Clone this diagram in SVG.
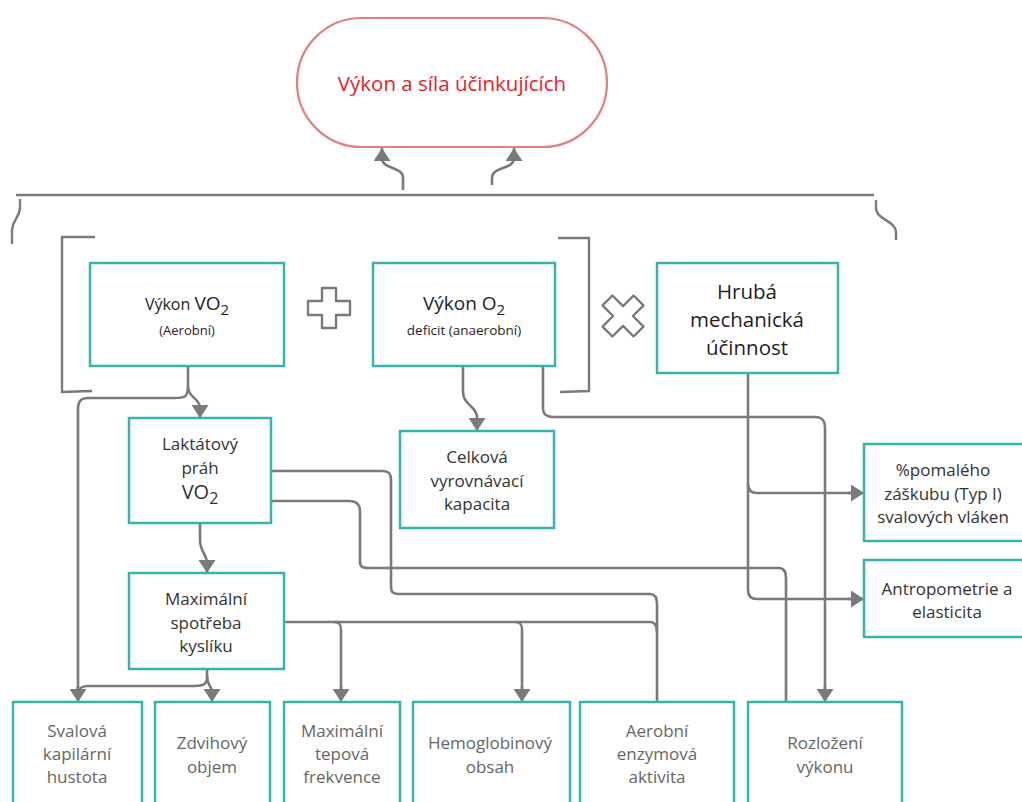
<svg xmlns="http://www.w3.org/2000/svg" width="1022" height="802" viewBox="0 0 1022 802">
<defs>
<marker id="ah" markerWidth="14" markerHeight="17" viewBox="0 0 14 17" refX="13" refY="8.5" orient="auto" markerUnits="userSpaceOnUse">
<path d="M0,0 L13,8.5 L0,17 Z" fill="#7a7a7a"/>
</marker>
<style>
.box{fill:#fff;stroke:#38b2ad;stroke-width:2.5}
.ln{fill:none;stroke:#7a7a7a;stroke-width:2.6}
.arr{fill:none;stroke:#7a7a7a;stroke-width:2.6;marker-end:url(#ah)}
.br{fill:none;stroke:#7a7a7a;stroke-width:2.4}
.t{font-family:"Open Sans","Liberation Sans",sans-serif;text-anchor:middle}
.dk{fill:#1e1e1e}
.md{fill:#333}
.gr{fill:#666}
</style>
</defs>
<rect width="1022" height="802" fill="#fff"/>

<g id="title">
<rect x="297" y="18" width="310" height="129" rx="64.5" fill="#fff" stroke="#e57e7e" stroke-width="2.2"/>
<text class="t" x="452" y="91" font-size="20.5" fill="#e8202a">Výkon a síla účinkujících</text>
</g>

<g id="brackets">
<path class="br" d="M16,195 H874"/>
<path class="br" d="M20,199 V207 C20,218 13,218 12,230 V244"/>
<path class="br" d="M876,200 V208 C876,220 895,220 896,232 V240"/>
<path class="br" d="M95,237 H62 V392 L92,391"/>
<path class="br" d="M558,238 L589,238 V391 L560,392"/>
</g>

<g id="ops">
<path d="M322,288 H336 V301 H350 V315 H336 V328 H322 V315 H308 V301 H322 Z" fill="#fff" stroke="#7a7a7a" stroke-width="2.4" stroke-linejoin="round"/>
<path transform="translate(623,316) rotate(45)" d="M-7,-22 H7 V-7 H22 V7 H7 V22 H-7 V7 H-22 V-7 H-7 Z" fill="#fff" stroke="#7a7a7a" stroke-width="2.4" stroke-linejoin="round"/>
</g>

<g id="connectors">
<path class="arr" d="M403,190 V178 C403,166 382,170 382,158 V148"/>
<path class="arr" d="M492,185 V178 C492,166 514,170 514,158 V148"/>
<path class="arr" d="M188,366 V386 C188,398 200,398 200,408 V418"/>
<path class="ln" d="M188,386 C188,398 184,398 174,398 H88 C80,398 78,402 78,410 V690"/>
<path class="arr" d="M78,686 V702"/>
<path class="arr" d="M200,523 V540 C200,552 207,554 207,563 V573"/>
<path class="ln" d="M207,669 V678 C207,686 200,686 190,686 H88 C80,686 78,690 78,696"/>
<path class="arr" d="M207,676 C207,686 212,686 212,692 V702"/>
<path class="ln" d="M271,471 H383 C389,471 391,474 391,480 V587 C391,593 394,594 400,594 H650 C655,594 657,598 657,604 V702"/>
<path class="ln" d="M271,501 H350 C357,501 360,505 360,512 V562 C360,568 364,568 370,568 H779 C784,568 786,571 786,578 V702"/>
<path class="ln" d="M284,622 H650 C655,622 657,625 657,632"/>
<path class="ln" d="M334,622 C339,622 341,624 341,630 V690"/>
<path class="arr" d="M341,686 V702"/>
<path class="ln" d="M515,622 C520,622 522,624 522,630 V690"/>
<path class="arr" d="M522,686 V702"/>
<path class="arr" d="M463,366 V392 C463,405 477,406 477,418 V431"/>
<path class="ln" d="M543,366 V408 C543,415 547,417 554,417 H815 C822,417 825,420 825,428 V690"/>
<path class="arr" d="M825,686 V702"/>
<path class="ln" d="M748,373 V484 C748,490 751,493 757,493 H852"/>
<path class="arr" d="M848,493 H864"/>
<path class="ln" d="M748,484 V590 C748,596 751,599 757,599 H852"/>
<path class="arr" d="M848,599 H864"/>
</g>

<g id="vyvo2">
<rect class="box" x="90" y="263" width="194" height="103"/>
<text class="t dk" x="187" y="310" font-size="16">Výkon <tspan font-size="19">VO</tspan><tspan font-size="15" dy="5">2</tspan></text>
<text class="t dk" x="187" y="335" font-size="13">(Aerobní)</text>
</g>

<g id="vyo2">
<rect class="box" x="373" y="263" width="182" height="103"/>
<text class="t dk" x="464" y="310" font-size="19">Výkon O<tspan font-size="15" dy="5">2</tspan></text>
<text class="t dk" x="464" y="335" font-size="13.5">deficit (anaerobní)</text>
</g>

<g id="hruba">
<rect class="box" x="657" y="263" width="181" height="110"/>
<text class="t dk" x="747" y="299" font-size="20.5">Hrubá</text>
<text class="t dk" x="747" y="327" font-size="20.5">mechanická</text>
<text class="t dk" x="747" y="355" font-size="20.5">účinnost</text>
</g>

<g id="laktat">
<rect class="box" x="129" y="418" width="142" height="105"/>
<text class="t md" x="200" y="450" font-size="17">Laktátový</text>
<text class="t md" x="200" y="474" font-size="17">práh</text>
<text class="t md" x="200" y="499" font-size="20">VO<tspan font-size="16" dy="5">2</tspan></text>
</g>

<g id="celkova">
<rect class="box" x="400" y="431" width="154" height="97"/>
<text class="t md" x="477" y="463" font-size="17">Celková</text>
<text class="t md" x="477" y="487" font-size="17">vyrovnávací</text>
<text class="t md" x="477" y="510" font-size="17">kapacita</text>
</g>

<g id="maxspot">
<rect class="box" x="129" y="573" width="155" height="96"/>
<text class="t md" x="206" y="605" font-size="17">Maximální</text>
<text class="t md" x="206" y="629" font-size="17">spotřeba</text>
<text class="t md" x="206" y="652" font-size="17">kyslíku</text>
</g>

<g id="pomaleho">
<rect class="box" x="864" y="444" width="170" height="97"/>
<text class="t md" x="943" y="476" font-size="17">%pomalého</text>
<text class="t md" x="943" y="500" font-size="17">záškubu (Typ I)</text>
<text class="t md" x="943" y="523" font-size="17">svalových vláken</text>
</g>

<g id="antropo">
<rect class="box" x="864" y="560" width="170" height="77"/>
<text class="t md" x="947" y="595" font-size="17">Antropometrie a</text>
<text class="t md" x="947" y="618" font-size="17">elasticita</text>
</g>

<g id="svalova">
<rect class="box" x="13" y="702" width="129" height="110"/>
<text class="t gr" x="77" y="737" font-size="17">Svalová</text>
<text class="t gr" x="77" y="760" font-size="17">kapilární</text>
<text class="t gr" x="77" y="783" font-size="17">hustota</text>
</g>

<g id="zdvihovy">
<rect class="box" x="155" y="702" width="115" height="110"/>
<text class="t gr" x="212" y="749" font-size="17">Zdvihový</text>
<text class="t gr" x="212" y="773" font-size="17">objem</text>
</g>

<g id="maxtep">
<rect class="box" x="284" y="702" width="116" height="110"/>
<text class="t gr" x="342" y="737" font-size="17">Maximální</text>
<text class="t gr" x="342" y="760" font-size="17">tepová</text>
<text class="t gr" x="342" y="783" font-size="17">frekvence</text>
</g>

<g id="hemo">
<rect class="box" x="413" y="702" width="157" height="110"/>
<text class="t gr" x="490" y="749" font-size="17">Hemoglobinový</text>
<text class="t gr" x="490" y="773" font-size="17">obsah</text>
</g>

<g id="aerobni">
<rect class="box" x="580" y="702" width="154" height="110"/>
<text class="t gr" x="657" y="737" font-size="17">Aerobní</text>
<text class="t gr" x="657" y="760" font-size="17">enzymová</text>
<text class="t gr" x="657" y="783" font-size="17">aktivita</text>
</g>

<g id="rozlozeni">
<rect class="box" x="748" y="702" width="154" height="110"/>
<text class="t gr" x="825" y="749" font-size="17">Rozložení</text>
<text class="t gr" x="825" y="773" font-size="17">výkonu</text>
</g>
</svg>
